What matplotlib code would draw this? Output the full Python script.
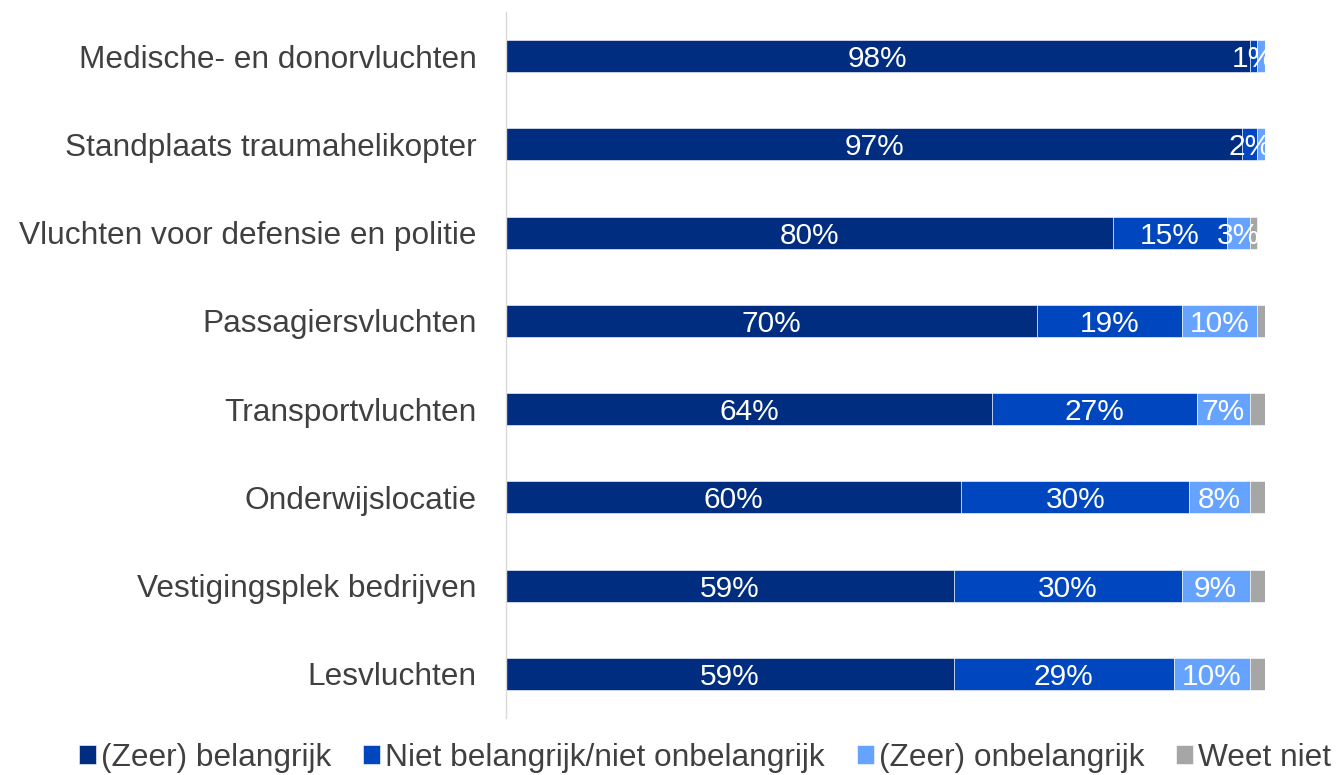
import matplotlib
matplotlib.use("Agg")
import matplotlib.pyplot as plt
from matplotlib.patches import Rectangle
import numpy as np

categories = ["Medische- en donorvluchten", "Standplaats traumahelikopter",
              "Vluchten voor defensie en politie", "Passagiersvluchten",
              "Transportvluchten", "Onderwijslocatie", "Vestigingsplek bedrijven",
              "Lesvluchten"]
series_names = ["(Zeer) belangrijk", "Niet belangrijk/niet onbelangrijk",
                "(Zeer) onbelangrijk", "Weet niet"]
zeer_belangrijk = [98, 97, 80, 70, 64, 60, 59, 59]
neutraal = [1, 2, 15, 19, 27, 30, 30, 29]
zeer_onbelangrijk = [1, 1, 3, 10, 7, 8, 9, 10]
weet_niet = [0, 0, 1, 1, 2, 2, 2, 2]
# which value labels are shown (per series, per category)
label_mask = [
    [True] * 8,
    [True] * 8,
    [False, False, True, True, True, True, True, True],
    [False] * 8,
]

colors = ["#002D80", "#0047BF", "#66A3FF", "#A6A6A6"]

plt.rcParams['font.family'] = ['Liberation Sans', 'DejaVu Sans']

fig = plt.figure(figsize=(13.37, 7.75), dpi=100)
ax = fig.add_axes([506/1337, 1-718/775, (1265-506)/1337, (718-12)/775])

data = [zeer_belangrijk, neutraal, zeer_onbelangrijk, weet_niet]
y = np.arange(len(categories))
left = np.zeros(len(categories))
bars = []
for vals, col, name in zip(data, colors, series_names):
    b = ax.barh(y, vals, left=left, height=0.36, color=col, label=name,
                edgecolor="white", linewidth=0.4)
    bars.append(b)
    left = left + np.array(vals)
totals = left

for si, (vals, b) in enumerate(zip(data, bars)):
    for i, v in enumerate(vals):
        if v <= 0 or not label_mask[si][i]:
            continue
        start = sum(data[k][i] for k in range(si))
        t = ax.text(start + v/2, y[i], f"{v}%", ha="center", va="center_baseline",
                    color="white", fontsize=21.5)
        clip = Rectangle((0, y[i]-0.18), totals[i], 0.36, transform=ax.transData)
        t.set_clip_path(clip)

ax.set_xlim(0, 100)
ax.set_ylim(len(categories)-0.5, -0.5)
ax.set_yticks(y)
ax.set_yticklabels(categories, fontsize=22.8, color="#404040")
ax.tick_params(axis="y", length=0, pad=21)
ax.set_xticks([])
for s in ["top", "right", "bottom"]:
    ax.spines[s].set_visible(False)
ax.spines["left"].set_color("#D9D9D9")
ax.spines["left"].set_linewidth(1.0)

leg = fig.legend(handles=[b[0] for b in bars], labels=series_names,
                 loc="center", bbox_to_anchor=(705/1337, 1-758/775), ncol=4,
                 frameon=False, fontsize=22.8, handlelength=0.55, handleheight=0.55,
                 handletextpad=0.15, columnspacing=1.0, borderaxespad=0)
for t in leg.get_texts():
    t.set_color("#404040")

fig.savefig("out.png", dpi=100)
